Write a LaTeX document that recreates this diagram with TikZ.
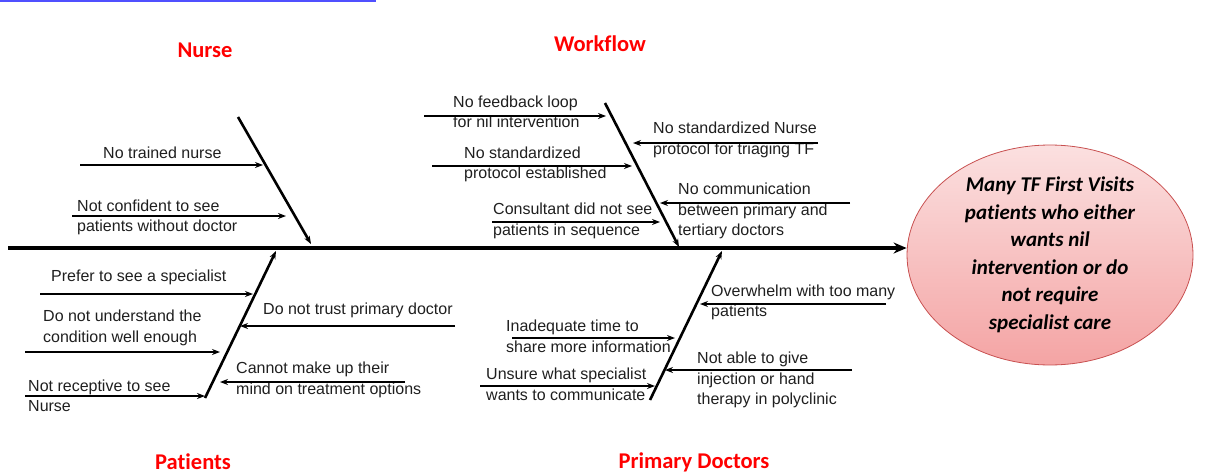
\documentclass[tikz,border=0pt]{standalone}
\usepackage{fontspec}
\setmainfont{Liberation Sans}
\newfontfamily\calib[Ligatures=NoCommon]{Carlito}
\usetikzlibrary{arrows.meta,shapes.geometric}
\begin{document}
\begin{tikzpicture}[x=1pt,y=-1pt,
  lbl/.style={font=\fontsize{16}{20.5}\selectfont, align=left, anchor=west, inner sep=0pt, text=black!88},
  cat/.style={font=\calib\bfseries\fontsize{22.5}{27}\selectfont, text=red, inner sep=0pt},
  cause/.style={line width=1.3pt, -{Stealth[length=8pt,width=6pt]}},
  bone/.style={line width=2.6pt, -{Stealth[length=8pt,width=6pt]}},
  spine/.style={line width=3.6pt, -{Stealth[length=13pt,width=11pt]}},
]
\useasboundingbox (0,0) rectangle (1223,474);
\definecolor{topblue}{RGB}{80,80,255}
\definecolor{efffill1}{RGB}{251,224,224}
\definecolor{efffill2}{RGB}{244,164,164}
\definecolor{effdraw}{RGB}{200,80,80}

% top blue rule
\coordinate (blueA) at (0,1);
\coordinate (blueB) at (376,1);
\draw[topblue, line width=2pt] (blueA) -- (blueB);

% effect
\node[ellipse, minimum width=286pt, minimum height=196pt, draw=effdraw, line width=0.8pt,
  top color=efffill1, bottom color=efffill2, align=center, inner sep=0pt,
  font=\calib\bfseries\itshape\fontsize{21}{27.5}\selectfont] (effect) at (1050,255)
  {Many TF First Visits\\patients who either\\wants nil\\intervention or do\\not require\\specialist care};

% spine
\coordinate (tail) at (8,248);
\draw[spine] (tail) -- (tail -| effect.west);

% category labels
\node[cat] (nurse) at (205,50) {Nurse};
\node[cat] (workflow) at (600,44) {Workflow};
\node[cat] (patients) at (193,462) {Patients};
\node[cat] (primary) at (694,462) {Primary Doctors};

% bones
\coordinate (nA) at (238,117); \coordinate (nB) at (311,244);
\coordinate (wA) at (605,103); \coordinate (wB) at (679,247);
\coordinate (pA) at (205,398); \coordinate (pB) at (276,251);
\coordinate (dA) at (650,400); \coordinate (dB) at (722,251);
\draw[bone] (nA) -- (nB);
\draw[bone] (wA) -- (wB);
\draw[bone] (pA) -- (pB);
\draw[bone] (dA) -- (dB);

% ---- Nurse causes
\node[lbl] (n1) at (103,153) {No trained nurse};
\node[lbl] (n2) at (77,217.5) {Not confident to see\\patients without doctor};
\coordinate (n1s) at (80,165); \coordinate (n1e) at (263,165);
\coordinate (n2s) at (72,216); \coordinate (n2e) at (286,216);
\draw[cause] (n1s) -- (n1e);
\draw[cause] (n2s) -- (n2e);

% ---- Workflow causes
\node[lbl] (w1) at (453,112) {No feedback loop\\for nil intervention};
\node[lbl] (w2) at (653,140) {No standardized Nurse\\protocol for triaging TF};
\node[lbl] (w3) at (464,164.5) {No standardized\\protocol established};
\node[lbl] (w4) at (678,211) {No communication\\between primary and\\tertiary doctors};
\node[lbl] (w5) at (493,221) {Consultant did not see\\patients in sequence};
\coordinate (w1s) at (424,116); \coordinate (w1e) at (606,116);
\coordinate (w2s) at (818,143); \coordinate (w2e) at (633,143);
\coordinate (w3s) at (432,166); \coordinate (w3e) at (632,166);
\coordinate (w4s) at (850,203); \coordinate (w4e) at (660,203);
\coordinate (w5s) at (492,222); \coordinate (w5e) at (660,222);
\draw[cause] (w1s) -- (w1e);
\draw[cause] (w2s) -- (w2e);
\draw[cause] (w3s) -- (w3e);
\draw[cause] (w4s) -- (w4e);
\draw[cause] (w5s) -- (w5e);

% ---- Patients causes
\node[lbl] (p1) at (51,277) {Prefer to see a specialist};
\node[lbl] (p2) at (263,310) {Do not trust primary doctor};
\node[lbl] (p3) at (43,328) {Do not understand the\\condition well enough};
\node[lbl] (p4) at (236,380) {Cannot make up their\\mind on treatment options};
\node[lbl] (p5) at (28,396) {Not receptive to see\\Nurse};
\coordinate (p1s) at (40,294); \coordinate (p1e) at (253,294);
\coordinate (p2s) at (455,326); \coordinate (p2e) at (240,326);
\coordinate (p3s) at (25,352); \coordinate (p3e) at (220,352);
\coordinate (p4s) at (405,382); \coordinate (p4e) at (220,382);
\coordinate (p5s) at (25,396); \coordinate (p5e) at (205,396);
\draw[cause] (p1s) -- (p1e);
\draw[cause] (p2s) -- (p2e);
\draw[cause] (p3s) -- (p3e);
\draw[cause] (p4s) -- (p4e);
\draw[cause] (p5s) -- (p5e);

% ---- Primary doctors causes
\node[lbl] (d1) at (711,302.5) {Overwhelm with too many\\patients};
\node[lbl] (d2) at (506,336.5) {Inadequate time to\\share more information};
\node[lbl] (d3) at (697,380) {Not able to give\\injection or hand\\therapy in polyclinic};
\node[lbl] (d4) at (486,384.5) {Unsure what specialist\\wants to communicate};
\coordinate (d1s) at (886,304); \coordinate (d1e) at (700,304);
\coordinate (d2s) at (512,338); \coordinate (d2e) at (675,338);
\coordinate (d3s) at (852,370); \coordinate (d3e) at (665,370);
\coordinate (d4s) at (480,386); \coordinate (d4e) at (655,386);
\draw[cause] (d1s) -- (d1e);
\draw[cause] (d2s) -- (d2e);
\draw[cause] (d3s) -- (d3e);
\draw[cause] (d4s) -- (d4e);
\end{tikzpicture}
\end{document}
